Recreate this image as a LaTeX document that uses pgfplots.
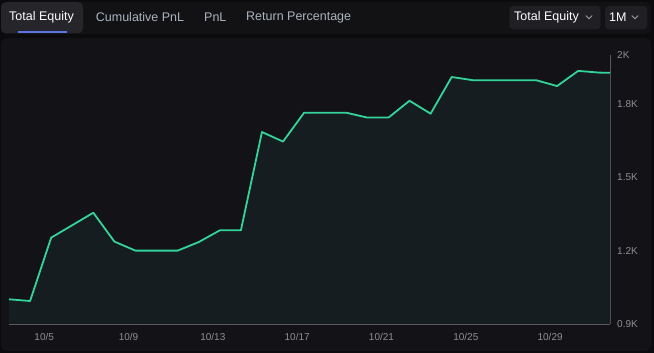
\documentclass[border=0pt]{standalone}
\usepackage{fontspec}
\setmainfont{Liberation Sans}
\usepackage{pgfplots}
\pgfplotsset{compat=1.18}
\usepackage{pgfplotstable}
\definecolor{outerbg}{HTML}{0B0B0E}
\definecolor{panelbg}{HTML}{131317}
\definecolor{tabbar}{HTML}{121215}
\definecolor{seltab}{HTML}{25252A}
\definecolor{btnbg}{HTML}{1F1F24}
\definecolor{linegreen}{HTML}{34D399}
\definecolor{areafill}{HTML}{161D20}
\definecolor{axisgray}{HTML}{58585E}
\definecolor{ticktext}{HTML}{8E8E94}
\definecolor{tabtext}{HTML}{A9B4C0}
\definecolor{accent}{HTML}{5B74E8}
\definecolor{chev}{HTML}{A0A0A8}

\pgfplotstableread{
x y
0 1.001
1 0.994
2 1.253
4 1.355
5 1.237
6 1.200
7 1.200
8 1.200
9 1.235
10 1.283
11 1.283
12 1.685
13 1.646
14 1.764
15 1.764
16 1.764
17 1.744
18 1.744
19 1.813
20 1.760
21 1.910
22 1.897
23 1.897
24 1.897
25 1.897
26 1.873
27 1.935
28 1.928
28.51 1.927
}\equity

\begin{document}
\begin{tikzpicture}[x=1pt,y=1pt]
\fill[outerbg] (0,0) rectangle (654,353);
\useasboundingbox (0,0) rectangle (654,353);
% tab bar
\fill[tabbar, rounded corners=5pt] (1,319) rectangle (651,351);
\fill[seltab, rounded corners=5pt] (1,319.5) rectangle (83,351);
\fill[accent] (18.3,320.3) rectangle (66.7,322.3);
\begin{scope}[every node/.style={anchor=west, inner sep=0pt, font=\fontsize{12.5}{14}\selectfont}]
\node[text=white] at (9,335.7) {Total Equity};
\node[text=tabtext] at (95.7,335.7) {Cumulative PnL};
\node[text=tabtext] at (204,335.7) {PnL};
\node[text=tabtext] at (246,335.7) {Return Percentage};
\end{scope}
% buttons
\fill[btnbg, rounded corners=4pt] (509.3,323.7) rectangle (600.7,347);
\fill[btnbg, rounded corners=4pt] (605,323.7) rectangle (647.3,347);
\node[anchor=west, inner sep=0pt, text=white, font=\fontsize{12.5}{14}\selectfont] at (514,335.7) {Total Equity};
\node[anchor=west, inner sep=0pt, text=white, font=\fontsize{12.5}{14}\selectfont] at (609,335.7) {1M};
\draw[chev, line width=0.9pt, line cap=round, line join=round] (586,337.3) -- (589,334.3) -- (592,337.3);
\draw[chev, line width=0.9pt, line cap=round, line join=round] (632,337.3) -- (635,334.3) -- (638,337.3);
% chart panel
\fill[panelbg, rounded corners=6pt] (1,2) rectangle (651,315);

\begin{axis}[
  at={(9pt,29pt)}, anchor=south west,
  width=601pt, height=269pt, scale only axis,
  xmin=0, xmax=28.51, ymin=0.9, ymax=2,
  axis x line*=bottom, axis y line*=right,
  axis line style={axisgray, line width=0.8pt},
  major tick length=0pt,
  xtick={1.67,5.67,9.67,13.67,17.67,21.67,25.67},
  xticklabels={10/5,10/9,10/13,10/17,10/21,10/25,10/29},
  ytick={0.9,1.2,1.5,1.8,2},
  yticklabels={0.9K,1.2K,1.5K,1.8K,2K},
  tick label style={text=ticktext, font=\fontsize{10}{12}\selectfont},
  xticklabel style={anchor=north, inner sep=0pt, yshift=-9.3pt},
  yticklabel style={anchor=west, inner sep=0pt, xshift=7pt},
]
\addplot[fill=areafill, draw=none] table[x=x,y=y] {\equity} \closedcycle;
\addplot[linegreen, line width=1.8pt, line join=round, mark=none] table[x=x,y=y] {\equity};
\end{axis}
\end{tikzpicture}
\end{document}
